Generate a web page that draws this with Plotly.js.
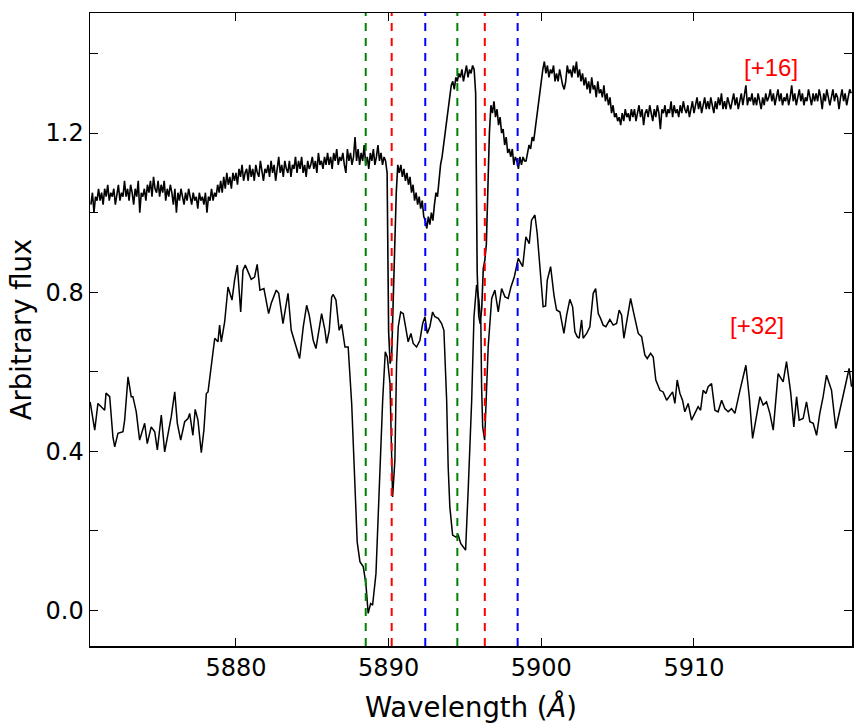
<!DOCTYPE html>
<html><head><meta charset="utf-8">
<script src="https://cdn.plot.ly/plotly-3.0.1.min.js"></script>
<style>html,body{margin:0;padding:0;background:#fff}</style>
</head><body><div id="chart" style="width:866px;height:725px"></div>
<script>
// Lower spectrum, epoch [+32]
const wave32 = [5870.45,5870.75,5870.96,5871.40,5871.49,5871.73,5871.94,5872.06,5872.27,5872.60,5872.71,5872.93,5873.14,5873.25,5873.47,5873.69,5874.02,5874.19,5874.45,5874.68,5874.85,5875.11,5875.33,5875.76,5875.99,5876.16,5876.38,5876.64,5876.86,5876.97,5877.18,5877.33,5877.51,5877.73,5877.90,5878.06,5878.17,5878.38,5878.61,5878.82,5878.93,5879.04,5879.26,5879.48,5879.74,5879.91,5880.09,5880.31,5880.46,5880.61,5880.83,5881.00,5881.22,5881.39,5881.57,5881.83,5882.14,5882.31,5882.64,5882.80,5883.08,5883.41,5883.62,5883.95,5884.17,5884.41,5884.63,5884.80,5885.06,5885.24,5885.39,5885.61,5885.83,5885.94,5886.11,5886.27,5886.37,5886.55,5886.76,5886.92,5887.14,5887.35,5887.58,5887.79,5887.94,5888.12,5888.34,5888.51,5888.66,5888.82,5888.95,5889.17,5889.43,5889.61,5889.78,5889.91,5890.09,5890.20,5890.26,5890.41,5890.52,5890.63,5890.79,5890.96,5891.13,5891.28,5891.46,5891.61,5891.83,5892.05,5892.23,5892.38,5892.53,5892.70,5892.88,5893.03,5893.25,5893.47,5893.62,5893.80,5893.90,5894.01,5894.19,5894.41,5894.56,5894.72,5894.89,5895.04,5895.21,5895.44,5895.59,5895.76,5895.91,5896.04,5896.09,5896.16,5896.29,5896.37,5896.52,5896.75,5896.96,5897.18,5897.40,5897.62,5897.83,5898.01,5898.23,5898.49,5898.78,5898.99,5899.21,5899.36,5899.58,5899.73,5899.86,5900.02,5900.12,5900.28,5900.39,5900.61,5900.83,5901.00,5901.22,5901.48,5901.66,5901.87,5902.05,5902.20,5902.35,5902.48,5902.64,5902.74,5902.97,5903.18,5903.40,5903.56,5903.73,5903.88,5904.05,5904.23,5904.49,5904.71,5904.93,5905.10,5905.26,5905.41,5905.59,5905.85,5906.06,5906.35,5906.57,5906.78,5906.94,5907.16,5907.33,5907.50,5907.77,5907.98,5908.21,5908.42,5908.60,5908.75,5908.90,5909.08,5909.25,5909.40,5909.62,5909.84,5910.06,5910.27,5910.43,5910.60,5910.78,5910.93,5911.15,5911.37,5911.58,5911.81,5912.02,5912.24,5912.46,5912.68,5913.01,5913.40,5913.62,5913.84,5914.05,5914.32,5914.53,5914.75,5914.97,5915.19,5915.51,5915.84,5916.06,5916.33,5916.54,5916.72,5916.89,5917.15,5917.37,5917.59,5917.81,5918.03,5918.24,5918.46,5918.68,5919.01,5919.29,5919.55,5919.77,5919.99,5920.16,5920.32];
const flux32 = [0.524,0.453,0.520,0.503,0.546,0.537,0.436,0.411,0.445,0.449,0.478,0.587,0.537,0.537,0.499,0.428,0.470,0.419,0.461,0.449,0.403,0.491,0.398,0.486,0.549,0.470,0.428,0.474,0.482,0.495,0.440,0.505,0.478,0.396,0.453,0.545,0.549,0.608,0.684,0.675,0.717,0.675,0.725,0.813,0.780,0.830,0.868,0.750,0.855,0.868,0.847,0.832,0.838,0.870,0.805,0.809,0.746,0.772,0.805,0.797,0.721,0.797,0.704,0.662,0.633,0.713,0.767,0.742,0.679,0.658,0.696,0.746,0.704,0.671,0.704,0.788,0.794,0.780,0.704,0.719,0.662,0.662,0.520,0.319,0.172,0.122,0.109,0.067,-0.008,0.017,0.013,0.092,0.369,0.528,0.650,0.637,0.570,0.394,0.285,0.377,0.621,0.713,0.750,0.746,0.713,0.675,0.696,0.671,0.662,0.679,0.721,0.738,0.696,0.713,0.750,0.738,0.734,0.721,0.704,0.528,0.360,0.260,0.189,0.184,0.189,0.168,0.159,0.151,0.302,0.528,0.738,0.818,0.780,0.721,0.562,0.461,0.428,0.528,0.662,0.784,0.805,0.750,0.809,0.788,0.784,0.813,0.838,0.885,0.864,0.939,0.922,0.981,0.994,0.948,0.889,0.822,0.763,0.765,0.830,0.864,0.792,0.755,0.750,0.696,0.742,0.782,0.763,0.700,0.688,0.684,0.730,0.684,0.696,0.713,0.797,0.809,0.746,0.734,0.717,0.713,0.731,0.717,0.721,0.755,0.742,0.684,0.725,0.784,0.746,0.696,0.688,0.642,0.633,0.646,0.637,0.579,0.553,0.549,0.528,0.541,0.549,0.520,0.579,0.545,0.528,0.499,0.520,0.478,0.495,0.512,0.503,0.553,0.545,0.562,0.570,0.503,0.499,0.528,0.507,0.499,0.507,0.495,0.553,0.616,0.537,0.432,0.478,0.537,0.516,0.524,0.495,0.453,0.595,0.574,0.625,0.549,0.461,0.537,0.478,0.482,0.524,0.474,0.470,0.440,0.495,0.537,0.591,0.553,0.457,0.503,0.533,0.574,0.608,0.562];

// Upper spectrum, epoch [+16]: uniform wavelength grid
const wave16Start = 5870.5;
const wave16Step = 0.1;
const flux16 = [
1.02,1.05,1.00,1.04,1.03,
1.06,1.03,1.05,1.02,1.06,1.04,1.07,1.03,1.05,1.04,
1.06,1.02,1.05,1.07,1.03,1.05,1.04,1.08,1.04,1.06,
1.03,1.07,1.05,1.02,1.06,1.04,1.08,1.00,1.05,1.04,
1.06,1.03,1.07,1.05,1.08,1.04,1.09,1.06,1.05,1.08,
1.04,1.07,1.05,1.08,1.03,1.06,1.04,1.07,1.05,1.02,
1.06,1.00,1.05,1.03,1.06,1.04,1.02,1.05,1.03,1.06,
1.04,1.02,1.05,1.03,1.04,1.01,1.05,1.03,1.04,1.02,
1.05,1.00,1.04,1.03,1.06,1.03,1.05,1.04,1.07,1.05,
1.08,1.05,1.09,1.06,1.10,1.07,1.09,1.06,1.10,1.08,
1.10,1.07,1.11,1.09,1.12,1.08,1.10,1.11,1.08,1.12,
1.09,1.11,1.08,1.12,1.10,1.09,1.13,1.10,1.08,1.11,
1.10,1.12,1.09,1.13,1.10,1.12,1.08,1.11,1.14,1.10,
1.12,1.09,1.13,1.11,1.10,1.13,1.09,1.12,1.11,1.14,
1.10,1.13,1.11,1.14,1.10,1.12,1.09,1.13,1.11,1.12,
1.14,1.11,1.13,1.10,1.15,1.12,1.13,1.11,1.14,1.12,
1.15,1.12,1.14,1.11,1.15,1.13,1.16,1.12,1.14,1.13,
1.15,1.12,1.10,1.16,1.13,1.15,1.12,1.14,1.19,1.13,
1.16,1.12,1.15,1.13,1.17,1.12,1.14,1.11,1.15,1.13,
1.16,1.12,1.14,1.17,1.13,1.15,1.12,1.14,1.13,1.10,
0.70,0.62,0.64,0.78,0.95,1.05,1.12,1.10,1.12,1.09,
1.11,1.08,1.10,1.07,1.09,1.05,1.07,1.03,1.05,1.02,
1.04,1.01,1.03,0.99,0.98,0.96,0.99,0.97,1.00,0.98,
1.02,1.05,1.04,1.08,1.12,1.14,1.17,1.20,1.23,1.26,
1.29,1.32,1.33,1.31,1.34,1.33,1.35,1.34,1.36,1.33,
1.35,1.37,1.34,1.36,1.35,1.37,1.36,1.30,0.85,0.74,
0.72,0.76,0.86,0.88,0.92,1.08,1.20,1.27,1.25,1.28,
1.24,1.26,1.22,1.24,1.20,1.21,1.17,1.19,1.15,1.16,
1.14,1.16,1.12,1.14,1.13,1.11,1.14,1.12,1.14,1.13,
1.13,1.15,1.17,1.16,1.19,1.18,1.21,1.24,1.27,1.31,
1.33,1.36,1.38,1.35,1.37,1.34,1.36,1.35,1.37,1.33,
1.35,1.33,1.36,1.34,1.32,1.31,1.33,1.37,1.35,1.36,
1.34,1.37,1.35,1.38,1.34,1.36,1.33,1.35,1.32,1.34,
1.31,1.33,1.30,1.34,1.31,1.32,1.29,1.33,1.30,1.31,
1.29,1.32,1.28,1.30,1.27,1.29,1.25,1.27,1.24,1.25,
1.23,1.24,1.22,1.25,1.23,1.26,1.24,1.25,1.23,1.26,
1.24,1.26,1.23,1.25,1.27,1.24,1.26,1.22,1.25,1.26,
1.24,1.27,1.25,1.23,1.26,1.24,1.27,1.25,1.21,1.26,
1.25,1.27,1.24,1.26,1.25,1.28,1.24,1.27,1.25,1.26,
1.24,1.27,1.25,1.28,1.26,1.25,1.27,1.24,1.26,1.28,
1.25,1.27,1.29,1.26,1.28,1.25,1.27,1.29,1.26,1.28,
1.26,1.29,1.27,1.25,1.28,1.26,1.29,1.27,1.30,1.26,
1.28,1.26,1.29,1.27,1.26,1.28,1.30,1.27,1.29,1.26,
1.28,1.30,1.27,1.29,1.32,1.27,1.29,1.28,1.30,1.27,
1.29,1.27,1.30,1.28,1.26,1.29,1.27,1.30,1.28,1.29,
1.31,1.28,1.30,1.27,1.29,1.31,1.28,1.30,1.27,1.29,
1.28,1.30,1.27,1.29,1.32,1.28,1.30,1.27,1.29,1.31,
1.28,1.30,1.27,1.29,1.28,1.31,1.29,1.27,1.30,1.28,
1.30,1.28,1.31,1.29,1.26,1.30,1.28,1.31,1.29,1.27,
1.29,1.31,1.28,1.30,1.29,1.26,1.29,1.31,1.28,1.30,
1.27,1.29,1.31,1.30];
const wave16 = flux16.map((_, i) => +(wave16Start + i * wave16Step).toFixed(2));

// Marker lines (wavelengths, Angstrom) and their colours
const lineWaves = [5888.5, 5894.5, 5890.2, 5896.3, 5892.4, 5898.45];
const lineColors = ['#008000', '#008000', '#ff0000', '#ff0000', '#0000ff', '#0000ff'];

// Epoch labels
const labelTexts = ['[+16]', '[+32]'];
const labelX = [5915.05, 5914.1];
const labelY = [1.364, 0.717];

const xTicks = [5880, 5890, 5900, 5910];
const yTicks = [0.0, 0.2, 0.4, 0.6, 0.8, 1.0, 1.2, 1.4];
const yTickText = ['0.0', '', '0.4', '', '0.8', '', '1.2', ''];

const traces = [
  {x: wave32, y: flux32, type: 'scatter', mode: 'lines', line: {color: '#000', width: 1.5}, hoverinfo: 'skip'},
  {x: wave16, y: flux16, type: 'scatter', mode: 'lines', line: {color: '#000', width: 1.6}, hoverinfo: 'skip'}
];

const shapes = lineWaves.map((w, i) => ({
  type: 'line', xref: 'x', yref: 'paper', x0: w, x1: w, y0: 0, y1: 1,
  line: {color: lineColors[i], width: 2, dash: '8px,7px'}, layer: 'above'
}));

const annotations = labelTexts.map((t, i) => ({
  x: labelX[i], y: labelY[i], xref: 'x', yref: 'y', text: t, showarrow: false,
  font: {family: 'Liberation Sans, Arial, sans-serif', size: 24, color: '#ff0000'},
  xanchor: 'center', yanchor: 'middle'
}));

const axisFont = {family: 'DejaVu Sans, sans-serif', size: 24, color: '#000'};
const titleFont = {family: 'DejaVu Sans, sans-serif', size: 27.5, color: '#000'};

const layout = {
  width: 866, height: 725,
  margin: {l: 90, r: 14, t: 13, b: 79},
  paper_bgcolor: '#fff', plot_bgcolor: '#fff',
  showlegend: false,
  font: axisFont,
  xaxis: {
    range: [5870.44, 5920.35], tickvals: xTicks, ticktext: xTicks.map(String),
    ticks: 'inside', ticklen: 8, tickwidth: 1, tickcolor: '#000',
    showline: true, linewidth: 1.5, linecolor: '#000', mirror: 'ticks',
    showgrid: false, zeroline: false, tickfont: axisFont,
    title: {text: 'Wavelength (<i>Å</i>)', font: titleFont, standoff: 16}
  },
  yaxis: {
    range: [-0.09, 1.502], tickvals: yTicks, ticktext: yTickText,
    ticks: 'inside', ticklen: 8, tickwidth: 1, tickcolor: '#000',
    showline: true, linewidth: 1.5, linecolor: '#000', mirror: 'ticks',
    showgrid: false, zeroline: false, tickfont: axisFont,
    title: {text: 'Arbitrary flux', font: titleFont, standoff: 6}
  },
  shapes: shapes,
  annotations: annotations
};

Plotly.newPlot('chart', traces, layout, {displayModeBar: false, staticPlot: true});
</script></body></html>
